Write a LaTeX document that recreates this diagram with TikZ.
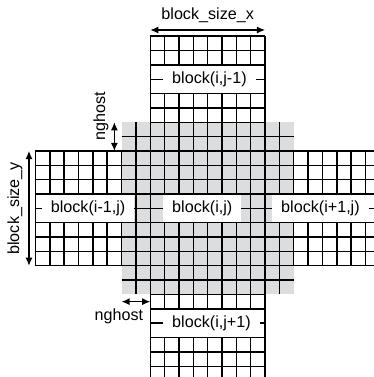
\documentclass[tikz,border=0pt]{standalone}
\usepackage{fontspec}
\setmainfont{Liberation Sans}
\usetikzlibrary{arrows.meta}
\definecolor{ghostgray}{RGB}{220,221,222}

\begin{document}
\begin{tikzpicture}[x=0.5cm, y=0.5cm,
    cellline/.style={line width=1.4pt},
    blocklabel/.style={fill=white, anchor=west, inner xsep=9pt, inner ysep=0pt,
      minimum height=1cm-1.4pt, font=\fontsize{16}{19}\selectfont},
    dimtext/.style={font=\fontsize{16}{19}\selectfont},
    dimarrow/.style={{Latex[length=8pt,width=7pt]}-{Latex[length=8pt,width=7pt]}, line width=1.3pt}]
  \clip (-10.47,-7.75) rectangle (15.59,18.52);
  % ghost zone round block(i,j)
  \fill[ghostgray] (-2,-2) rectangle (10,10);
  \foreach \k in {-1,...,9} {
    \draw[cellline] (\k,-2) -- (\k,10);
    \draw[cellline] (-2,\k) -- (10,\k);
  }
  % the five blocks, 8x8 cells each
  \foreach \bx/\by in {0/0, 0/8, 0/-8, -8/0, 8/0} {
    \begin{scope}[shift={(\bx,\by)}]
      \foreach \k in {0,...,8} {
        \draw[cellline] (\k,0) -- (\k,8);
        \draw[cellline] (0,\k) -- (8,\k);
      }
    \end{scope}
  }

  \node[blocklabel] (bc) at (0.885,4) {block(i,j)};
  \node[blocklabel] (bn) at (0.885,13) {block(i,j-1)};
  \node[blocklabel] (bs) at (0.885,-4) {block(i,j+1)};
  \node[blocklabel] (bw) at (-7.57,4) {block(i-1,j)};
  \node[blocklabel] (be) at (8.48,4) {block(i+1,j)};

  % sizes
  \coordinate (sx1) at (0,16.43);
  \coordinate (sx2) at (8,16.43);
  \draw[dimarrow] (sx1) -- (sx2);
  \node[dimtext] (sx) at (4,17.48) {block\_size\_x};

  \coordinate (sy1) at (-8.45,0);
  \coordinate (sy2) at (-8.45,8);
  \draw[dimarrow] (sy1) -- (sy2);
  \node[dimtext, rotate=90] (sy) at (-9.43,4) {block\_size\_y};

  \coordinate (gy1) at (-2.5,8);
  \coordinate (gy2) at (-2.5,10);
  \draw[dimarrow] (gy1) -- (gy2);
  \node[dimtext, rotate=90] (gy) at (-3.43,10.4) {nghost};

  \coordinate (gx1) at (-2,-2.5);
  \coordinate (gx2) at (0,-2.5);
  \draw[dimarrow] (gx1) -- (gx2);
  \node[dimtext] (gx) at (-2.18,-3.5) {nghost};
\end{tikzpicture}
\end{document}
